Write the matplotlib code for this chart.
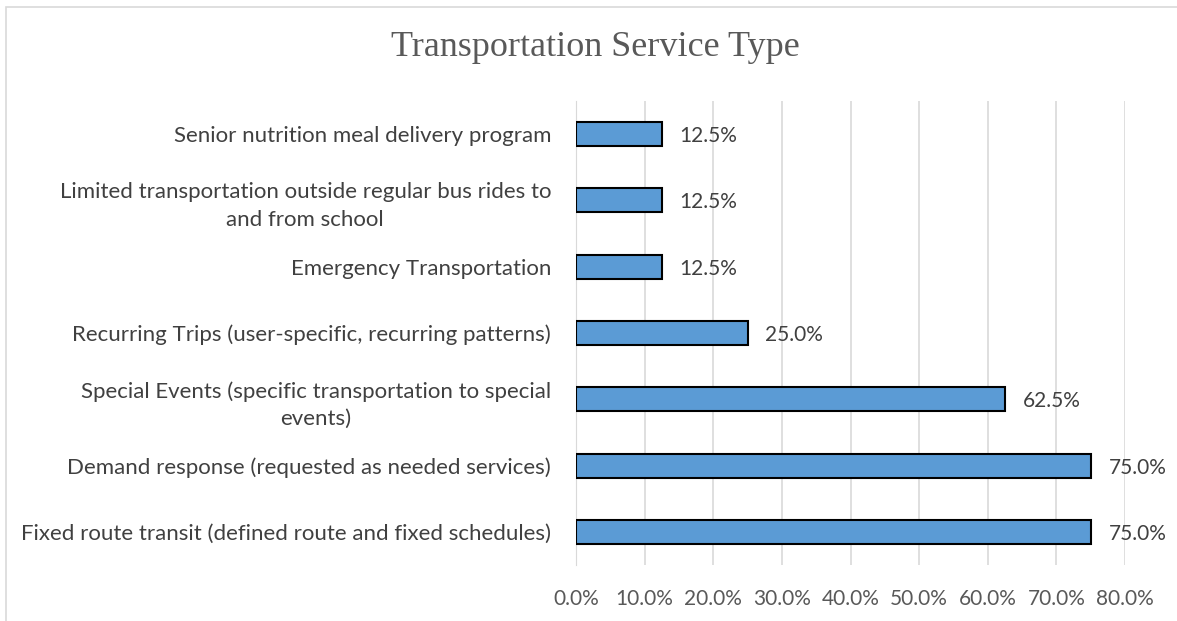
import matplotlib
matplotlib.use("Agg")
import matplotlib.pyplot as plt
import matplotlib.patches as mpatches
from matplotlib.ticker import FuncFormatter

# ------------------------------------------------------------------ data
categories = [
    "Fixed route transit (defined route and fixed schedules)",
    "Demand response (requested as needed services)",
    "Special Events (specific transportation to special\nevents)",
    "Recurring Trips (user-specific, recurring patterns)",
    "Emergency Transportation",
    "Limited transportation outside regular bus rides to\nand from school",
    "Senior nutrition meal delivery program",
]
shares = [0.75, 0.75, 0.625, 0.25, 0.125, 0.125, 0.125]
xticks = [0.0, 0.1, 0.2, 0.3, 0.4, 0.5, 0.6, 0.7, 0.8]

W, H = 1177, 621
fig = plt.figure(figsize=(W / 100, H / 100), dpi=100)

# chart frame (cropped on right / bottom like the screenshot)
fig.patches.append(mpatches.Rectangle((6 / W, -0.1), 1.2, 1 - 7 / H + 0.1,
                                      transform=fig.transFigure, fill=False,
                                      edgecolor="#d9d9d9", lw=1.2))

ax = fig.add_axes([576 / W, 1 - 565 / H, (1125 - 576) / W, (565 - 101) / H])
y = range(len(categories))
ax.barh(y, shares, height=0.36, color="#5b9bd5", edgecolor="black",
        linewidth=1.5, zorder=3)
for yi, v in zip(y, shares):
    ax.text(v + 0.026, yi, f"{v * 100:.1f}%", va="center_baseline", ha="left",
            fontsize=15, color="#404040", family="Lato")

ax.set_xlim(0, 0.8)
ax.set_ylim(-0.5, len(categories) - 0.5)
ax.set_xticks(xticks)
ax.xaxis.set_major_formatter(FuncFormatter(lambda v, _: f"{v * 100:.1f}%"))
ax.set_yticks(list(y))
ax.set_yticklabels(categories, multialignment="center", linespacing=1.45)
ax.grid(axis="x", color="#d9d9d9", lw=1.2, zorder=0)
for s in ["top", "right", "bottom"]:
    ax.spines[s].set_visible(False)
ax.spines["left"].set_color("#d9d9d9")
ax.tick_params(axis="both", length=0, labelcolor="#404040")
ax.tick_params(axis="x", pad=17, labelsize=15, labelcolor="#595959")
ax.tick_params(axis="y", pad=18, labelsize=16)
for lab in ax.get_xticklabels() + ax.get_yticklabels():
    lab.set_family("Lato")

fig.text(595 / W, 1 - 48 / H, "Transportation Service Type", ha="center",
         va="center", fontsize=26, color="#595959", family="Liberation Serif")

fig.savefig("out.png", dpi=100)
